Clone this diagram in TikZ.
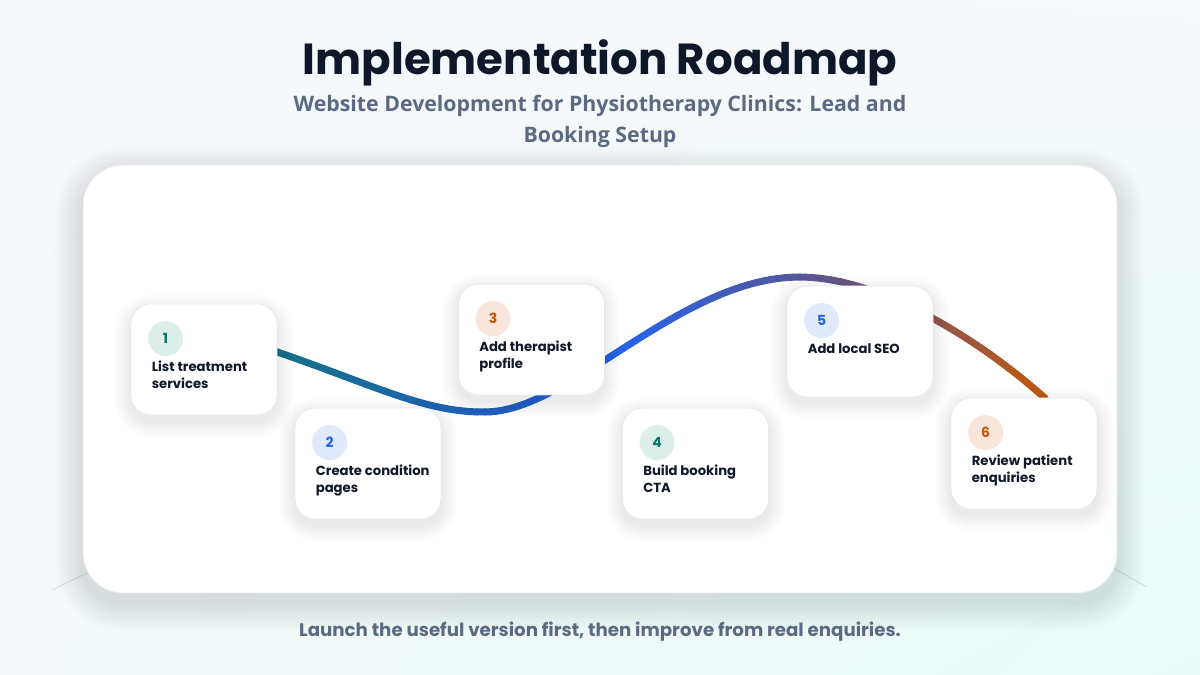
\documentclass[tikz,border=0pt]{standalone}
\usepackage{fontspec}
\setmainfont{Lato}
\newfontfamily\titlefont{Poppins}
\newfontfamily\cardfont{Poppins}
\newfontfamily\subfont{Open Sans}
\usetikzlibrary{calc,shadings}
\definecolor{titleink}{HTML}{0F172A}
\definecolor{subink}{HTML}{5B6A82}
\definecolor{ink}{HTML}{111827}
\definecolor{cardline}{HTML}{E6E9EE}
\definecolor{tealfill}{HTML}{DCEFEA}
\definecolor{tealnum}{HTML}{0F766E}
\definecolor{bluefill}{HTML}{E1EAFD}
\definecolor{bluenum}{HTML}{2563EB}
\definecolor{orgfill}{HTML}{F8E6DB}
\definecolor{orgnum}{HTML}{C2570C}
\definecolor{decoline}{HTML}{D3E2E2}
\definecolor{gteal}{HTML}{157283}
\definecolor{gblue1}{HTML}{1F5FBD}
\definecolor{gblue2}{HTML}{2563EB}
\definecolor{gpurp}{HTML}{55589C}
\definecolor{gorg}{HTML}{C2570C}
\definecolor{bgul}{HTML}{F5F7FA}
\definecolor{bgur}{HTML}{F7F9FB}
\definecolor{bgll}{HTML}{F4F8F9}
\definecolor{bglr}{HTML}{E9FBF9}
\definecolor{shadowcol}{HTML}{1E293B}
\newcommand\gradbez[8]{%
  \foreach \k in {1,...,24}{%
    \pgfmathsetmacro\ta{(\k-1)/24}%
    \pgfmathsetmacro\tb{\k/24}%
    \pgfmathsetmacro\xa{(1-\ta)*(1-\ta)*(1-\ta)*#1+3*(1-\ta)*(1-\ta)*\ta*#3+3*(1-\ta)*\ta*\ta*#5+\ta*\ta*\ta*#7}%
    \pgfmathsetmacro\ya{(1-\ta)*(1-\ta)*(1-\ta)*#2+3*(1-\ta)*(1-\ta)*\ta*#4+3*(1-\ta)*\ta*\ta*#6+\ta*\ta*\ta*#8}%
    \pgfmathsetmacro\xb{(1-\tb)*(1-\tb)*(1-\tb)*#1+3*(1-\tb)*(1-\tb)*\tb*#3+3*(1-\tb)*\tb*\tb*#5+\tb*\tb*\tb*#7}%
    \pgfmathsetmacro\yb{(1-\tb)*(1-\tb)*(1-\tb)*#2+3*(1-\tb)*(1-\tb)*\tb*#4+3*(1-\tb)*\tb*\tb*#6+\tb*\tb*\tb*#8}%
    \pgfmathtruncatemacro\pc{100-100*(\k-0.5)/24}%
    \draw[roadline,color=gA!\pc!gB] (\xa,\ya) -- (\xb,\yb);
  }}
% soft shadow: center x, center y, width, height, radius, yshift, steps, spread per step
\newcommand\softshade[8]{%
  \foreach \s in {1,...,#7}{%
    \pgfmathsetmacro\rr{#5+#8*\s}%
    \fill[shadowcol,opacity=0.009,rounded corners=\rr pt]
      (#1-#3/2-#8*\s,#2-#4/2-#8*\s+#6) rectangle (#1+#3/2+#8*\s,#2+#4/2+#8*\s+#6);
  }}
\begin{document}
\begin{tikzpicture}[x=1pt,y=1pt,
  roadline/.style={line width=7pt,line cap=round},
  card/.style={draw=cardline,line width=0.8pt,fill=white,rounded corners=20pt,
    minimum width=146pt,minimum height=111pt,inner sep=0pt},
  numc/.style={circle,minimum size=35pt,inner sep=0pt,
    font=\cardfont\bfseries\fontsize{14}{14}\selectfont},
  lab/.style={anchor=base west,align=left,inner sep=0pt,text=ink,
    font=\cardfont\bfseries\fontsize{13.2}{17}\selectfont},
  deco/.style={draw=decoline,line width=1pt}]
\useasboundingbox (0,0) rectangle (1200,675);
\shade[upper left=bgul, upper right=bgur, lower left=bgll, lower right=bglr] (0,0) rectangle (1200,675);
% decorative faint lines behind the panel
\coordinate (dl1) at (52,85); \coordinate (dl2) at (110,113);
\coordinate (dr1) at (1147,88); \coordinate (dr2) at (1092,119);
\draw[deco] (dl1) -- (dl2);
\draw[deco] (dr1) -- (dr2);
% title
\node[anchor=base,text=titleink,font=\titlefont\bfseries\fontsize{43.5}{43.5}\selectfont] (title) at (600,600) {Implementation Roadmap};
\node[anchor=base,text=subink,align=center,font=\subfont\bfseries\fontsize{21.3}{31}\selectfont] (sub) at (600,532) {Website Development for Physiotherapy Clinics: Lead and\\Booking Setup};
% panel
\softshade{600}{296}{1034}{428}{40}{-10}{14}{2}
\node[draw=cardline,line width=0.8pt,fill=white,rounded corners=40pt,minimum width=1034pt,minimum height=428pt] (panel) at (600,296) {};
% curve
\colorlet{gA}{gteal}\colorlet{gB}{gblue1}
\gradbez{250}{332}{360}{297}{420}{262}{485}{263}
\colorlet{gA}{gblue1}\colorlet{gB}{gblue2}
\gradbez{485}{263}{527.5}{263}{576.25}{296.75}{629.375}{330.5}
\colorlet{gA}{gblue2}\colorlet{gB}{gpurp}
\gradbez{629.375}{330.5}{682.5}{364.25}{740}{398}{800}{398}
\colorlet{gA}{gpurp}\colorlet{gB}{gorg}
\gradbez{800}{398}{880}{398}{980}{335}{1045}{277}
% cards
\softshade{204}{315.5}{146}{111}{20}{-6}{10}{1.6}
\node[card] (c1) at (204,315.5) {};
\softshade{368}{211.5}{146}{111}{20}{-6}{10}{1.6}
\node[card] (c2) at (368,211.5) {};
\softshade{531.5}{335.5}{146}{111}{20}{-6}{10}{1.6}
\node[card] (c3) at (531.5,335.5) {};
\softshade{695.5}{211.5}{146}{111}{20}{-6}{10}{1.6}
\node[card] (c4) at (695.5,211.5) {};
\softshade{860}{333.5}{146}{111}{20}{-6}{10}{1.6}
\node[card] (c5) at (860,333.5) {};
\softshade{1024}{221.5}{146}{111}{20}{-6}{10}{1.6}
\node[card] (c6) at (1024,221.5) {};
\node[numc,fill=tealfill,text=tealnum] (n1) at ($(c1.north west)+(35,-35)$) {1};
\node[numc,fill=bluefill,text=bluenum] (n2) at ($(c2.north west)+(35,-35)$) {2};
\node[numc,fill=orgfill,text=orgnum] (n3) at ($(c3.north west)+(35,-35)$) {3};
\node[numc,fill=tealfill,text=tealnum] (n4) at ($(c4.north west)+(35,-35)$) {4};
\node[numc,fill=bluefill,text=bluenum] (n5) at ($(c5.north west)+(35,-35)$) {5};
\node[numc,fill=orgfill,text=orgnum] (n6) at ($(c6.north west)+(35,-35)$) {6};
\node[lab] (t1) at ($(c1.north west)+(21,-85)$) {List treatment\\services};
\node[lab] (t2) at ($(c2.north west)+(21,-85)$) {Create condition\\pages};
\node[lab] (t3) at ($(c3.north west)+(21,-85)$) {Add therapist\\profile};
\node[lab] (t4) at ($(c4.north west)+(21,-85)$) {Build booking\\CTA};
\node[lab] (t5) at ($(c5.north west)+(21,-68)$) {Add local SEO};
\node[lab] (t6) at ($(c6.north west)+(21,-85)$) {Review patient\\enquiries};
% footer
\node[anchor=base,text=subink,font=\cardfont\bfseries\fontsize{18.2}{18.2}\selectfont] (foot) at (600,38) {Launch the useful version first, then improve from real enquiries.};
\end{tikzpicture}
\end{document}
